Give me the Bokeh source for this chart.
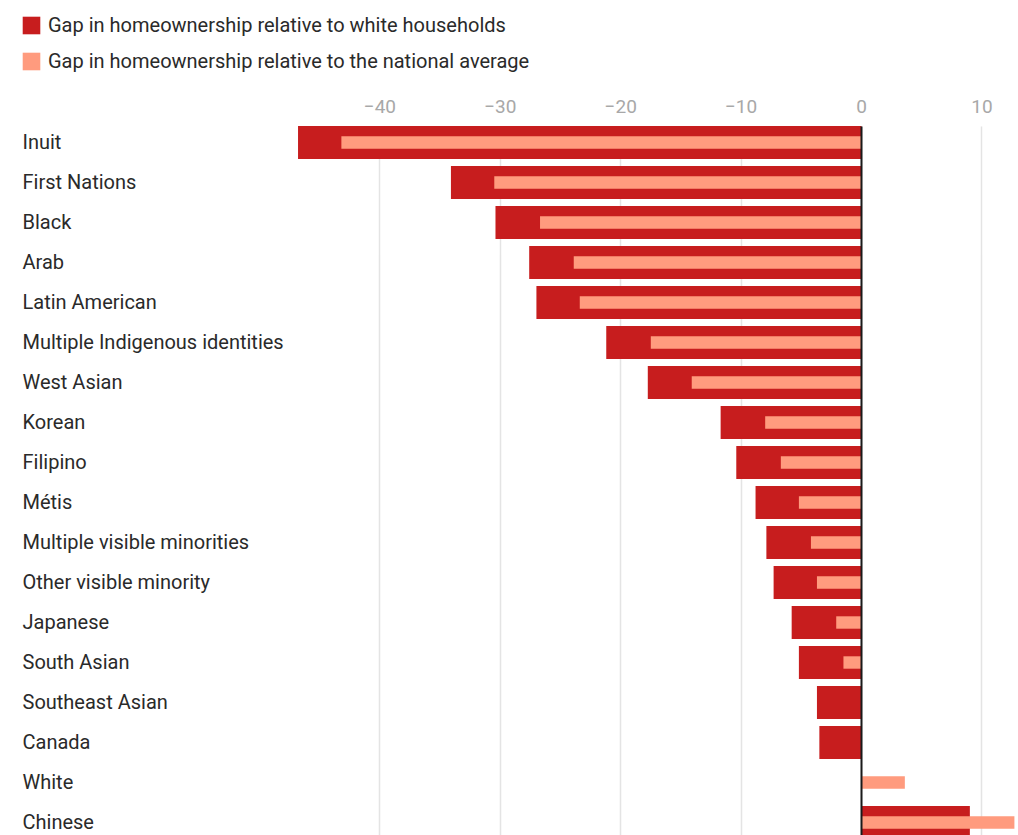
from bokeh.plotting import figure
from bokeh.models import Range1d, FixedTicker, Span, Legend, LegendItem, ColumnDataSource, BoxAnnotation, Grid
from bokeh.core.properties import value
from bokeh.embed import file_html
from bokeh.resources import INLINE

categories = ["Inuit", "First Nations", "Black", "Arab", "Latin American",
              "Multiple Indigenous identities", "West Asian", "Korean", "Filipino",
              "Métis", "Multiple visible minorities", "Other visible minority",
              "Japanese", "South Asian", "Southeast Asian", "Canada", "White", "Chinese"]
gap_vs_white = [-46.8, -34.1, -30.4, -27.6, -27.0, -21.2, -17.75, -11.7, -10.4,
                -8.8, -7.9, -7.3, -5.8, -5.2, -3.7, -3.5, 0.0, 9.0]
gap_vs_national = [-43.2, -30.5, -26.7, -23.9, -23.4, -17.5, -14.1, -8.0, -6.7,
                   -5.2, -4.2, -3.7, -2.1, -1.5, 0.0, 0.0, 3.6, 12.7]
x_ticks = [-40, -30, -20, -10, 0, 10]
tick_labels = ["\u221240", "\u221230", "\u221220", "\u221210", "0", "10"]
zero_line = [0]

DARK = "#c71d1e"
LIGHT = "#ff9b7e"
FONT = "Roboto"

W, H = 1018, 835
px_per_unit = 12.04
zero_px = 861
x_start = -zero_px / px_per_unit
x_end = (W - zero_px) / px_per_unit

row_pitch = 40.0
first_row_px = 142
y_top = (0 - first_row_px) / row_pitch
y_bottom = (H - first_row_px) / row_pitch
tick_label_row = (106 - first_row_px) / row_pitch
grid_top_row = (126 - first_row_px) / row_pitch

rows = list(range(len(categories)))
src = ColumnDataSource(dict(row=rows, cat=categories, white=gap_vs_white, nat=gap_vs_national))
tick_src = ColumnDataSource(dict(x=x_ticks, lab=tick_labels, y=[tick_label_row] * len(x_ticks)))

p = figure(width=W, height=H,
           x_range=Range1d(x_start, x_end), y_range=Range1d(y_bottom, y_top),
           x_axis_location=None, y_axis_location=None,
           output_backend="svg", toolbar_location=None,
           min_border_left=0, min_border_right=0, min_border_top=0, min_border_bottom=0)
p.outline_line_color = None
p.background_fill_color = "white"
p.border_fill_color = "white"

p.xgrid.ticker = FixedTicker(ticks=x_ticks)
p.xgrid.grid_line_color = "#e4e4e4"
p.xgrid.grid_line_width = 1.5
p.ygrid.grid_line_color = None

grid = p.xgrid[0]
has_cross = "cross_bounds" in grid.properties()
if has_cross:
    grid.cross_bounds = (grid_top_row, y_bottom)
else:
    p.add_layout(BoxAnnotation(top=y_top, bottom=grid_top_row, fill_color="white",
                               fill_alpha=1, line_color=None, level="underlay"))

r_white = p.hbar(y="row", left=0, right="white", height=0.825, source=src,
                 fill_color=DARK, line_color=None)
r_nat = p.hbar(y="row", left=0, right="nat", height=0.31, source=src,
               fill_color=LIGHT, line_color=None)

# zero baseline, drawn over the bars, starting at the top of the first bar
if has_cross:
    zgrid = Grid(dimension=0, ticker=FixedTicker(ticks=zero_line), grid_line_color="#1a1a1a",
                 grid_line_width=2, level="annotation", cross_bounds=(grid_top_row, y_bottom))
    p.add_layout(zgrid)
else:
    p.add_layout(Span(location=zero_line[0], dimension="height", line_color="#1a1a1a", line_width=2))

# x tick labels
p.text(x="x", y="y", text="lab", source=tick_src, text_font=value(FONT),
       text_font_size="19px", text_color="#a8a8a8", text_baseline="middle",
       text_align="center")

# category labels
label_x = x_start + 22 / px_per_unit
p.text(x=label_x, y="row", text="cat", source=src, text_font=value(FONT),
       text_font_size="20px", text_color="#2a2a2a", text_baseline="middle",
       text_align="left", y_offset=-1)

legend = Legend(items=[
    LegendItem(label="Gap in homeownership relative to white households", renderers=[r_white]),
    LegendItem(label="Gap in homeownership relative to the national average", renderers=[r_nat]),
], location=(20, H - 17 - 56), orientation="vertical")
legend.glyph_width = 22
legend.glyph_height = 22
legend.label_height = 22
legend.spacing = 12
legend.padding = 0
legend.margin = 0
legend.label_standoff = 6
legend.label_text_font = FONT
legend.label_text_font_size = "20px"
legend.label_text_color = "#2a2a2a"
legend.border_line_color = None
legend.background_fill_alpha = 0
p.add_layout(legend)

open("out.html", "w").write(file_html(p, INLINE))
